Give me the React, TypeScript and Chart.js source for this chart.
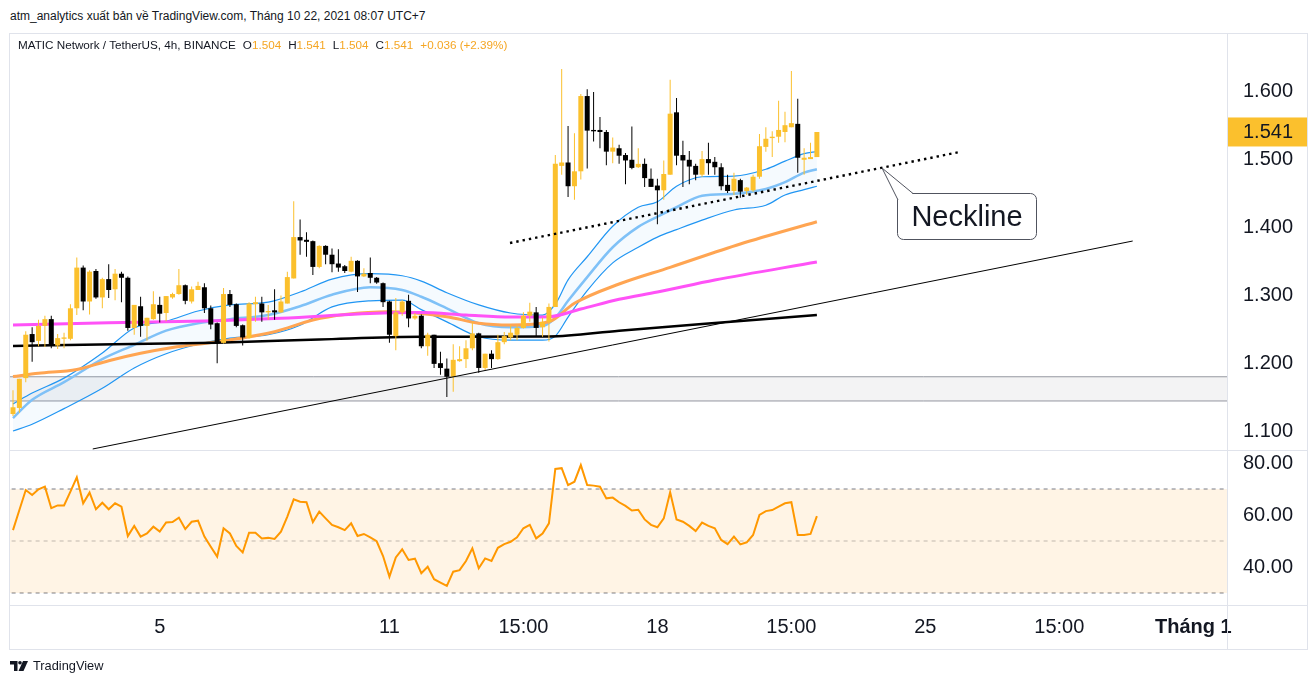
import React, { useEffect, useRef } from "react";
import { Chart, registerables } from "chart.js";
Chart.register(...registerables);

const FONT = "'Liberation Sans', Arial, sans-serif";
const UP = "#FBC02D";
const DOWN = "#000000";

// ---------------- data ----------------
const headerText = "atm_analytics xuất bản về TradingView.com, Tháng 10 22, 2021 08:07 UTC+7";
const legendTitle = "MATIC Network / TetherUS, 4h, BINANCE";
const legendKeys = ["O", "H", "L", "C", ""];
const legendVals = ["1.504", "1.541", "1.504", "1.541", "+0.036 (+2.39%)"];

const candleOpen = [
  1.125, 1.134, 1.178, 1.243, 1.233, 1.255, 1.265, 1.226, 1.236, 1.236,
  1.281, 1.341, 1.291, 1.336, 1.297, 1.324, 1.309, 1.332, 1.326, 1.252,
  1.284, 1.255, 1.265, 1.286, 1.274, 1.297, 1.302, 1.315, 1.291, 1.308,
  1.312, 1.281, 1.259, 1.230, 1.302, 1.287, 1.256, 1.237, 1.287, 1.288,
  1.275, 1.278, 1.275, 1.288, 1.325, 1.386, 1.382, 1.380, 1.342, 1.373,
  1.360, 1.347, 1.343, 1.335, 1.351, 1.328, 1.333, 1.326, 1.318, 1.291,
  1.240, 1.275, 1.292, 1.266, 1.270, 1.225, 1.242, 1.200, 1.192, 1.180,
  1.203, 1.206, 1.222, 1.244, 1.193, 1.214, 1.206, 1.231, 1.238, 1.242,
  1.252, 1.270, 1.275, 1.253, 1.261, 1.283, 1.491, 1.496, 1.461, 1.483,
  1.594, 1.544, 1.544, 1.541, 1.512, 1.517, 1.507, 1.500, 1.489, 1.494,
  1.472, 1.462, 1.455, 1.478, 1.570, 1.507, 1.500, 1.491, 1.478, 1.501,
  1.497, 1.489, 1.463, 1.454, 1.470, 1.454, 1.455, 1.475, 1.519, 1.532,
  1.534, 1.541, 1.548, 1.553, 1.500, 1.501, 1.504,
];
const candleHigh = [
  1.160, 1.177, 1.247, 1.253, 1.264, 1.270, 1.270, 1.243, 1.245, 1.287,
  1.356, 1.344, 1.337, 1.339, 1.326, 1.346, 1.339, 1.335, 1.328, 1.286,
  1.298, 1.267, 1.306, 1.298, 1.299, 1.304, 1.339, 1.316, 1.313, 1.320,
  1.318, 1.285, 1.260, 1.311, 1.308, 1.288, 1.257, 1.290, 1.298, 1.298,
  1.286, 1.309, 1.300, 1.335, 1.439, 1.412, 1.393, 1.381, 1.374, 1.374,
  1.369, 1.368, 1.345, 1.357, 1.352, 1.340, 1.356, 1.327, 1.319, 1.292,
  1.296, 1.293, 1.301, 1.274, 1.272, 1.245, 1.242, 1.217, 1.207, 1.228,
  1.225, 1.234, 1.261, 1.245, 1.214, 1.219, 1.242, 1.246, 1.256, 1.256,
  1.275, 1.289, 1.283, 1.267, 1.288, 1.507, 1.634, 1.550, 1.539, 1.597,
  1.604, 1.600, 1.563, 1.544, 1.533, 1.522, 1.510, 1.549, 1.517, 1.502,
  1.487, 1.472, 1.499, 1.618, 1.591, 1.528, 1.513, 1.494, 1.513, 1.525,
  1.504, 1.495, 1.478, 1.481, 1.472, 1.460, 1.478, 1.538, 1.548, 1.542,
  1.587, 1.571, 1.631, 1.590, 1.517, 1.525, 1.541,
];
const candleLow = [
  1.122, 1.127, 1.172, 1.202, 1.225, 1.224, 1.222, 1.221, 1.222, 1.234,
  1.271, 1.278, 1.272, 1.295, 1.281, 1.296, 1.293, 1.290, 1.248, 1.242,
  1.239, 1.233, 1.264, 1.260, 1.262, 1.295, 1.301, 1.287, 1.288, 1.308,
  1.274, 1.250, 1.200, 1.229, 1.283, 1.253, 1.226, 1.236, 1.261, 1.261,
  1.264, 1.264, 1.274, 1.288, 1.325, 1.360, 1.357, 1.330, 1.340, 1.346,
  1.334, 1.335, 1.333, 1.334, 1.305, 1.327, 1.318, 1.317, 1.283, 1.230,
  1.219, 1.270, 1.253, 1.264, 1.222, 1.211, 1.193, 1.183, 1.150, 1.158,
  1.202, 1.193, 1.219, 1.186, 1.190, 1.193, 1.205, 1.228, 1.234, 1.234,
  1.251, 1.261, 1.240, 1.239, 1.232, 1.283, 1.478, 1.445, 1.441, 1.471,
  1.487, 1.527, 1.517, 1.492, 1.495, 1.494, 1.464, 1.486, 1.488, 1.460,
  1.460, 1.405, 1.441, 1.478, 1.492, 1.460, 1.464, 1.470, 1.475, 1.478,
  1.478, 1.455, 1.451, 1.448, 1.444, 1.448, 1.453, 1.472, 1.512, 1.504,
  1.525, 1.526, 1.548, 1.481, 1.478, 1.501, 1.504,
];
const candleClose = [
  1.135, 1.177, 1.242, 1.231, 1.255, 1.265, 1.226, 1.237, 1.238, 1.281,
  1.341, 1.291, 1.335, 1.297, 1.324, 1.308, 1.332, 1.326, 1.252, 1.286,
  1.255, 1.267, 1.287, 1.273, 1.299, 1.302, 1.315, 1.292, 1.309, 1.314,
  1.281, 1.257, 1.230, 1.302, 1.286, 1.255, 1.238, 1.288, 1.290, 1.275,
  1.277, 1.275, 1.291, 1.327, 1.386, 1.381, 1.379, 1.342, 1.373, 1.360,
  1.346, 1.341, 1.336, 1.351, 1.328, 1.332, 1.326, 1.319, 1.290, 1.242,
  1.275, 1.291, 1.266, 1.270, 1.225, 1.242, 1.199, 1.193, 1.180, 1.205,
  1.206, 1.222, 1.244, 1.193, 1.214, 1.206, 1.231, 1.240, 1.245, 1.252,
  1.270, 1.276, 1.252, 1.261, 1.283, 1.494, 1.496, 1.461, 1.483, 1.594,
  1.543, 1.542, 1.541, 1.512, 1.518, 1.506, 1.499, 1.488, 1.494, 1.473,
  1.460, 1.455, 1.479, 1.568, 1.506, 1.499, 1.490, 1.478, 1.501, 1.495,
  1.489, 1.461, 1.454, 1.472, 1.453, 1.459, 1.475, 1.520, 1.531, 1.534,
  1.544, 1.551, 1.554, 1.503, 1.503, 1.504, 1.541,
];
const rsiValues = [
  54.2, 61.9, 69.6, 67.7, 69.9, 70.9, 62.6, 63.7, 63.7, 69.0,
  74.5, 64.5, 68.6, 62.2, 64.7, 62.2, 64.5, 63.2, 51.9, 55.8,
  51.7, 52.9, 55.5, 53.6, 57.1, 57.3, 59.0, 54.6, 57.4, 57.8,
  51.7, 47.8, 44.0, 54.9, 52.9, 48.1, 45.6, 53.2, 53.2, 51.0,
  51.2, 50.8, 53.6, 59.4, 66.0, 65.1, 64.9, 57.3, 61.3, 58.7,
  56.2, 55.3, 54.2, 56.8, 51.9, 52.7, 51.4, 49.9, 44.2, 36.3,
  43.7, 46.8, 42.7, 43.2, 37.6, 40.1, 35.3, 34.0, 32.7, 38.2,
  38.8, 42.3, 47.2, 39.5, 43.3, 42.3, 47.4, 48.8, 49.7, 51.4,
  54.9, 56.2, 51.0, 52.9, 56.8, 77.7, 78.0, 71.5, 72.8, 79.2,
  71.5, 71.3, 70.9, 66.4, 66.7, 64.9, 63.5, 61.7, 62.0, 58.3,
  56.2, 55.3, 58.7, 68.7, 58.3, 57.4, 55.8, 53.8, 57.1, 55.8,
  54.9, 50.4, 48.8, 51.7, 48.7, 49.5, 52.3, 60.0, 61.5, 61.9,
  63.2, 64.5, 64.9, 52.3, 52.3, 52.7, 59.6,
];

const blueIdx = [0, 3, 8, 14, 19, 24, 29, 34, 40, 45, 50, 56, 61, 64, 68, 73, 78, 83, 85, 87, 90, 94, 98, 101, 104, 108, 113, 118, 121, 124, 126];
const blueUpper = [1.140, 1.156, 1.178, 1.215, 1.252, 1.262, 1.277, 1.286, 1.290, 1.305, 1.324, 1.332, 1.329, 1.321, 1.304, 1.286, 1.274, 1.271, 1.287, 1.323, 1.357, 1.402, 1.430, 1.438, 1.461, 1.475, 1.476, 1.486, 1.498, 1.509, 1.512];
const blueMiddle = [1.119, 1.146, 1.172, 1.206, 1.227, 1.248, 1.259, 1.265, 1.271, 1.284, 1.301, 1.312, 1.308, 1.298, 1.281, 1.259, 1.253, 1.255, 1.267, 1.292, 1.327, 1.371, 1.401, 1.416, 1.430, 1.447, 1.450, 1.457, 1.467, 1.481, 1.486];
const blueLower = [1.100, 1.110, 1.133, 1.163, 1.193, 1.214, 1.228, 1.237, 1.242, 1.256, 1.283, 1.292, 1.293, 1.279, 1.261, 1.239, 1.234, 1.234, 1.240, 1.268, 1.307, 1.348, 1.371, 1.386, 1.397, 1.411, 1.426, 1.433, 1.448, 1.456, 1.461];

const orangeIdx = [0, 4, 10, 15, 20, 25, 32, 41, 47, 52, 59, 68, 73, 78, 84, 88, 95, 103, 114, 126];
const orangeVals = [1.1804, 1.1851, 1.1907, 1.2037, 1.2146, 1.2232, 1.2317, 1.2465, 1.2637, 1.2718, 1.2760, 1.2686, 1.2589, 1.2563, 1.2612, 1.2884, 1.3168, 1.3414, 1.3758, 1.4087];

const magentaIdx = [0, 15, 32, 42, 59, 64, 71, 78, 84, 89, 95, 101, 110, 126];
const magentaVals = [1.2563, 1.2597, 1.2627, 1.2662, 1.2745, 1.2748, 1.2711, 1.2681, 1.2686, 1.2799, 1.2943, 1.3050, 1.3227, 1.3493];

const blackIdx = [0, 16, 32, 48, 64, 84, 95, 108, 126];
const blackVals = [1.2254, 1.2278, 1.2302, 1.2350, 1.2391, 1.2394, 1.2480, 1.2578, 1.2711];

const trendIdx = [12.5, 175.5];
const trendVals = [1.0735, 1.3802];
const necklineIdx = [77.9, 148.4];
const necklineVals = [1.3773, 1.5115];

const zoneTop = 1.180;
const zoneBottom = 1.1443;
const lastPrice = 1.541;

const priceTicks = [1.1, 1.2, 1.3, 1.4, 1.5, 1.6];
const rsiTicks = [40, 60, 80];
const rsiLevels = [70, 50, 30];
const timeTickIdx = [23, 59, 80, 101, 122, 143, 164, 185];
const timeTickLabels = ["5", "11", "15:00", "18", "15:00", "25", "15:00", "Tháng 1"];
const timeTickBold = [false, false, false, false, false, false, false, true];

const X_MIN = -0.47;
const X_MAX = 190.28;
const PRICE_MIN = 1.072;
const PRICE_MAX = 1.6855;
const RSI_MIN = 25.38;
const RSI_MAX = 84.62;

// ---------------- helpers ----------------
const pts = (xs: number[], ys: number[]) => xs.map((x, i) => ({ x, y: ys[i] }));
const hline = (v: number) => [{ x: X_MIN - 1, y: v }, { x: X_MAX + 1, y: v }];

const axisFont = { family: FONT, size: 20 };

const lastPricePlugin = {
  id: "lastPriceLabel",
  afterDraw(chart: any) {
    const ys = chart.scales.y;
    const y = ys.getPixelForValue(lastPrice);
    const ctx = chart.ctx;
    const left = chart.chartArea.right + 1;
    ctx.save();
    ctx.fillStyle = UP;
    ctx.fillRect(left, y - 14.5, 79, 29);
    ctx.fillStyle = "#131722";
    ctx.font = `20px ${FONT}`;
    ctx.textBaseline = "middle";
    ctx.textAlign = "left";
    ctx.fillText(lastPrice.toFixed(3), left + 15, y + 1);
    ctx.restore();
  },
};

function PriceChart() {
  const ref = useRef<HTMLCanvasElement>(null);
  useEffect(() => {
    const idx = candleOpen.map((_, i) => i);
    const colors = idx.map((i) => (candleClose[i] >= candleOpen[i] ? UP : DOWN));
    const line = (data: any[], color: string, width: number, order: number, extra: any = {}) => ({
      type: "line",
      data,
      borderColor: color,
      borderWidth: width,
      pointRadius: 0,
      fill: false,
      cubicInterpolationMode: "monotone",
      order,
      ...extra,
    });
    const datasets: any[] = [
      line(pts(necklineIdx, necklineVals), "#000", 2.4, -2, { borderDash: [2.4, 4], cubicInterpolationMode: "default" }), // 0
      line(pts(trendIdx, trendVals), "#000", 1, -1, { cubicInterpolationMode: "default" }), // 1
      {
        type: "bar",
        data: idx.map((i) => ({ x: i, y: [Math.min(candleOpen[i], candleClose[i]), Math.max(candleOpen[i], candleClose[i])] })),
        backgroundColor: colors,
        grouped: false,
        barThickness: 5,
        maxBarThickness: 5,
        minBarLength: 1,
        inflateAmount: 0,
        order: 0,
      }, // 2
      {
        type: "bar",
        data: idx.map((i) => ({ x: i, y: [candleLow[i], candleHigh[i]] })),
        backgroundColor: colors,
        grouped: false,
        barThickness: 1,
        maxBarThickness: 1,
        inflateAmount: 0,
        order: 1,
      }, // 3
      line(pts(blackIdx, blackVals), "#000", 2.5, 2), // 4
      line(pts(magentaIdx, magentaVals), "#FF52F7", 3, 3), // 5
      line(pts(orangeIdx, orangeVals), "#FFA552", 3, 4), // 6
      line(pts(blueIdx, blueMiddle), "#7FC1F7", 2.5, 5), // 7
      line(pts(blueIdx, blueUpper), "#2196F3", 1.2, 6, { fill: 9, backgroundColor: "rgba(33,150,243,0.045)" }), // 8
      line(pts(blueIdx, blueLower), "#2196F3", 1.2, 7), // 9
      line(hline(zoneTop), "#9598A1", 1, 8, { fill: 11, backgroundColor: "rgba(120,123,134,0.09)", cubicInterpolationMode: "default" }), // 10
      line(hline(zoneBottom), "#9598A1", 1, 9, { cubicInterpolationMode: "default" }), // 11
    ];
    const chart = new Chart(ref.current as HTMLCanvasElement, {
      type: "line",
      data: { datasets },
      options: {
        animation: false,
        responsive: false,
        events: [],
        layout: { padding: 0 },
        plugins: { legend: { display: false }, tooltip: { enabled: false } },
        scales: {
          x: { type: "linear", min: X_MIN, max: X_MAX, offset: false, display: false },
          y: {
            type: "linear",
            position: "right",
            min: PRICE_MIN,
            max: PRICE_MAX,
            afterBuildTicks: (s: any) => {
              s.ticks = priceTicks.map((v) => ({ value: v }));
            },
            afterFit: (s: any) => {
              s.width = 80;
              s.paddingTop = 0;
              s.paddingBottom = 0;
            },
            grid: { display: false, drawTicks: false },
            border: { display: false },
            ticks: {
              color: "#131722",
              font: axisFont,
              padding: 16,
              crossAlign: "near",
              callback: (v: any) => Number(v).toFixed(3),
            },
          },
        },
      } as any,
      plugins: [lastPricePlugin],
    } as any);
    return () => chart.destroy();
  }, []);
  return <canvas ref={ref} width={1297} height={416} style={{ position: "absolute", left: 10, top: 34 }} />;
}

function RsiChart() {
  const ref = useRef<HTMLCanvasElement>(null);
  useEffect(() => {
    const idx = rsiValues.map((_, i) => i);
    const datasets: any[] = [
      { type: "line", data: idx.map((i) => ({ x: i, y: rsiValues[i] })), borderColor: "#FF9800", borderWidth: 2, pointRadius: 0, fill: false, order: 0 },
      { type: "line", data: hline(rsiLevels[0]), borderColor: "#787B86", borderWidth: 1, borderDash: [4, 4], pointRadius: 0, fill: 3, backgroundColor: "rgba(255,152,0,0.1)", order: 1 },
      { type: "line", data: hline(rsiLevels[1]), borderColor: "rgba(120,123,134,0.5)", borderWidth: 1, borderDash: [4, 4], pointRadius: 0, fill: false, order: 2 },
      { type: "line", data: hline(rsiLevels[2]), borderColor: "#787B86", borderWidth: 1, borderDash: [4, 4], pointRadius: 0, fill: false, order: 3 },
    ];
    const chart = new Chart(ref.current as HTMLCanvasElement, {
      type: "line",
      data: { datasets },
      options: {
        animation: false,
        responsive: false,
        events: [],
        layout: { padding: 0 },
        plugins: { legend: { display: false }, tooltip: { enabled: false } },
        scales: {
          x: {
            type: "linear",
            position: "bottom",
            min: X_MIN,
            max: X_MAX,
            offset: false,
            afterBuildTicks: (s: any) => {
              s.ticks = timeTickIdx.map((v) => ({ value: v }));
            },
            afterFit: (s: any) => {
              s.height = 44;
              s.paddingLeft = 0;
              s.paddingRight = 0;
            },
            grid: { display: false, drawTicks: false },
            border: { display: false },
            ticks: {
              autoSkip: false,
              maxRotation: 0,
              minRotation: 0,
              padding: 10,
              color: "#131722",
              font: (c: any) => ({ family: FONT, size: 20, weight: timeTickBold[c.index] ? "bold" : "normal" }),
              callback: (_v: any, i: number) => timeTickLabels[i],
            },
          },
          y: {
            type: "linear",
            position: "right",
            min: RSI_MIN,
            max: RSI_MAX,
            afterBuildTicks: (s: any) => {
              s.ticks = rsiTicks.map((v) => ({ value: v }));
            },
            afterFit: (s: any) => {
              s.width = 80;
              s.paddingTop = 0;
              s.paddingBottom = 0;
            },
            grid: { display: false, drawTicks: false },
            border: { display: false },
            ticks: {
              color: "#131722",
              font: axisFont,
              padding: 16,
              crossAlign: "near",
              callback: (v: any) => Number(v).toFixed(2),
            },
          },
        },
      } as any,
    } as any);
    return () => chart.destroy();
  }, []);
  return <canvas ref={ref} width={1297} height={198} style={{ position: "absolute", left: 10, top: 451 }} />;
}

const BORDER = "#E0E3EB";

export default function App() {
  return (
    <div style={{ position: "fixed", left: 0, top: 0, width: 1314, height: 685, background: "#fff", fontFamily: FONT, overflow: "hidden" }}>
      <div style={{ position: "absolute", left: 10, top: 9, fontSize: 12, color: "#131722", whiteSpace: "nowrap" }}>{headerText}</div>
      <div style={{ position: "absolute", left: 9, top: 33, width: 1299, height: 617, border: `1px solid ${BORDER}`, boxSizing: "border-box" }} />
      <PriceChart />
      <RsiChart />
      <div style={{ position: "absolute", left: 10, top: 450, width: 1297, height: 1, background: BORDER }} />
      <div style={{ position: "absolute", left: 10, top: 605, width: 1297, height: 1, background: BORDER }} />
      <div style={{ position: "absolute", left: 1227, top: 34, width: 1, height: 615, background: BORDER }} />
      <div style={{ position: "absolute", left: 18, top: 38, fontSize: 11.7, color: "#131722", whiteSpace: "nowrap" }}>
        <span>{legendTitle}</span>
        {legendKeys.map((k, i) => (
          <span key={i} style={{ marginLeft: 7 }}>
            {k}
            <span style={{ color: "#F5A623" }}>{legendVals[i]}</span>
          </span>
        ))}
      </div>
      <svg style={{ position: "absolute", left: 0, top: 0 }} width={1314} height={685}>
        <rect x={897.5} y={193.5} width={139} height={46} rx={6} fill="#fff" stroke="#50535E" strokeWidth={1} />
        <path d="M 898.5 201 L 882 168 L 913 194 Z" fill="#fff" stroke="none" />
        <path d="M 898 200 L 882 168 L 913 193.5" fill="none" stroke="#50535E" strokeWidth={1} />
      </svg>
      <div style={{ position: "absolute", left: 897, top: 193, width: 140, height: 47, display: "flex", alignItems: "center", justifyContent: "center", fontSize: 29, color: "#131722" }}>Neckline</div>
      <svg style={{ position: "absolute", left: 10, top: 661 }} width={20} height={11}>
        <path d="M0 0 H7.5 V10 H4 V3.5 H0 Z" fill="#131722" />
        <circle cx={10} cy={1.8} r={1.8} fill="#131722" />
        <path d="M13 0 H18 L13.5 10 H8.5 Z" fill="#131722" />
      </svg>
      <div style={{ position: "absolute", left: 33, top: 658, fontSize: 12.8, color: "#131722", whiteSpace: "nowrap" }}>TradingView</div>
    </div>
  );
}
